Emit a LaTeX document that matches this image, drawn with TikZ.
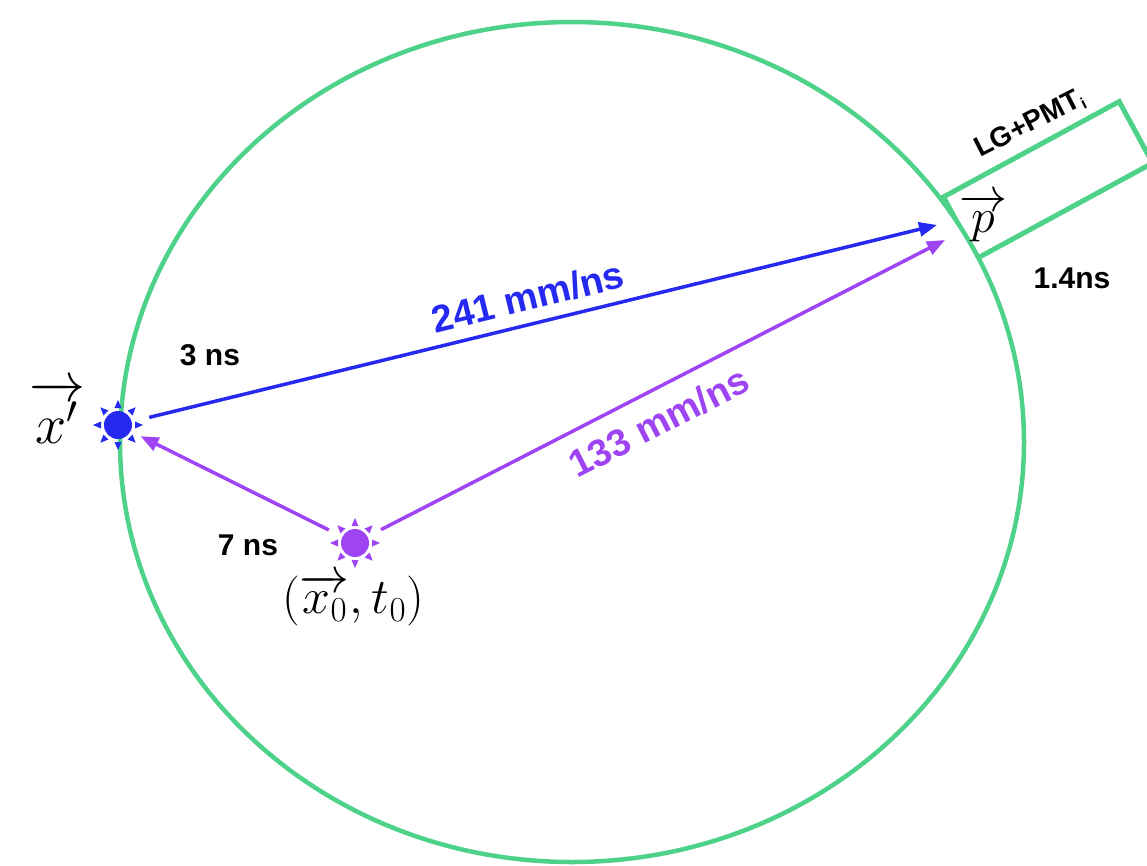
\documentclass[tikz,border=0pt]{standalone}
\usepackage{fix-cm}
\usepackage{amsmath}
\usepackage{fontspec}
\newfontfamily\labelfont{Liberation Sans}
\usetikzlibrary{arrows.meta,positioning,shapes.geometric}

\definecolor{ringgreen}{RGB}{78,210,138}
\definecolor{rayblue}{RGB}{38,42,240}
\definecolor{raypurple}{RGB}{158,68,243}

\begin{document}
\begin{tikzpicture}[
  x=1pt, y=-1pt,
  ray/.style={line width=3.5pt, -{Triangle[length=18pt,width=14pt]}},
  speed/.style={font=\labelfont\bfseries\fontsize{38}{40}\selectfont, sloped},
  tlabel/.style={font=\labelfont\bfseries\fontsize{30}{32}\selectfont},
  mlabel/.style={font=\fontsize{50}{56}\selectfont},
  source/.style={circle, fill=#1, minimum size=28pt, inner sep=0pt},
]
\useasboundingbox (0,0) rectangle (1147,865);

% -- light guide + PMT box, its inner end hidden by the vessel ---------------
\node[draw=ringgreen, line width=5pt, rotate=28.5,
      minimum width=200pt, minimum height=70pt] (pmt) at (1048,180) {};
\node[tlabel, font=\labelfont\bfseries\fontsize{28}{30}\selectfont, rotate=27]
  (pmtlab) at (1030,124) {LG+PMT\textsubscript{\fontsize{16}{16}\selectfont i}};

% -- detector vessel -----------------------------------------------------------
\node[draw=ringgreen, fill=white, line width=4.5pt, ellipse, inner sep=0pt,
      minimum width=904pt, minimum height=840pt] (vessel) at (572,442) {};

% -- light sources ---------------------------------------------------------------
\node[source=rayblue]   (xp) at (118,425) {};
\node[source=raypurple] (xz) at (355,543) {};
\foreach \s/\c in {xp/rayblue, xz/raypurple}
  \foreach \a in {0,45,...,315}
    \fill[\c, shift={(\s.center)}, rotate=\a] (17,-3.5) -- (25,0) -- (17,3.5) -- cycle;

\coordinate (pb) at (937,225);
\coordinate (pv) at (945,240);

% -- light paths ------------------------------------------------------------------
\draw[ray, rayblue, shorten <=18pt] (xp) --
  node[speed, above=8pt, text=rayblue] {241 mm/ns} (pb);
\draw[ray, raypurple, shorten <=15pt] (xz) --
  node[speed, below=12pt, pos=0.48, text=raypurple] {133 mm/ns} (pv);
\draw[ray, raypurple, shorten <=15pt, shorten >=11pt] (xz) -- (xp);

% -- labels -------------------------------------------------------------------------
\node[mlabel, font=\fontsize{56}{62}\selectfont] (xplab) at (57,412) {$\overrightarrow{x'}$};
\node[mlabel] (xzlab) at (353,600) {$(\overrightarrow{x_0}, t_0)$};
\node[mlabel, font=\fontsize{48}{54}\selectfont] (plab) at (983,218) {$\overrightarrow{p}$};

\node[tlabel] (t3)  at (210,355) {3 ns};
\node[tlabel] (t7)  at (248,545) {7 ns};
\node[tlabel] (t14) at (1072,278) {1.4ns};

\end{tikzpicture}
\end{document}
